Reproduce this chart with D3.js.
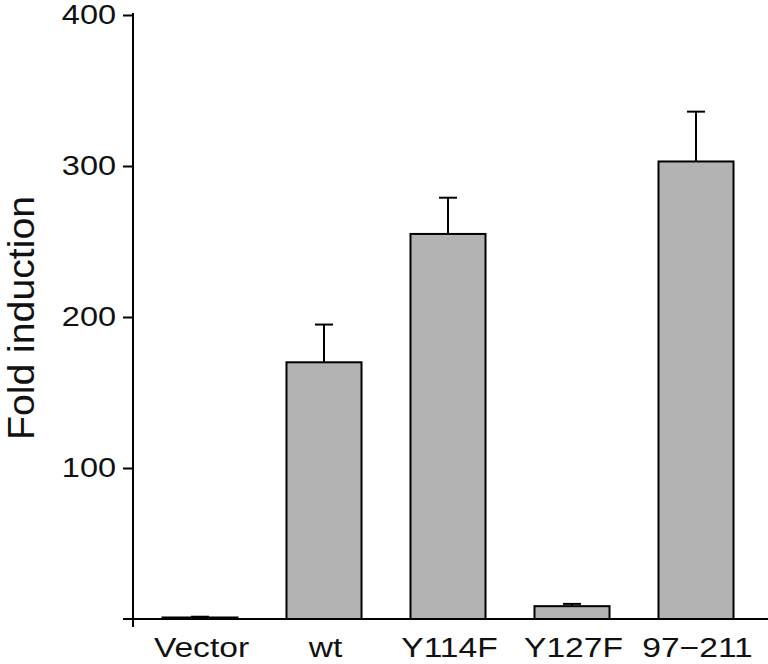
<!DOCTYPE html>
<html>
<head>
<meta charset="utf-8">
<script src="https://cdn.jsdelivr.net/npm/d3@7"></script>
<style>
  html, body { margin: 0; padding: 0; background: #fff; }
  svg { display: block; }
  text { font-family: "Liberation Sans", Arial, Helvetica, sans-serif; fill: #111; }
</style>
</head>
<body>
<svg id="chart" width="768" height="664"></svg>
<script>
const categories = ["Vector", "wt", "Y114F", "Y127F", "97\u2212211"];
const values = [1, 170, 255, 8.5, 303];
const errors = [0.5, 25, 24, 1.5, 33];
const yTicks = [100, 200, 300, 400];
const yTitle = "Fold induction";

const svg = d3.select("#chart");
const x = d3.scaleBand().domain(categories).range([138, 758]).paddingInner(0.395).paddingOuter(0.1975);
const y = d3.scaleLinear().domain([0, 400]).range([619, 15]);

// bars
svg.selectAll("rect.bar").data(categories).join("rect")
  .attr("class", "bar")
  .attr("x", d => x(d))
  .attr("y", (d, i) => y(values[i]))
  .attr("width", x.bandwidth())
  .attr("height", (d, i) => y(0) - y(values[i]))
  .attr("fill", "#b3b3b3")
  .attr("stroke", "#000")
  .attr("stroke-width", 2);

// error bars (upper only)
const cx = d => x(d) + x.bandwidth() / 2;
svg.selectAll("line.err").data(categories).join("line")
  .attr("class", "err")
  .attr("x1", cx).attr("x2", cx)
  .attr("y1", (d, i) => y(values[i]))
  .attr("y2", (d, i) => y(values[i] + errors[i]))
  .attr("stroke", "#000").attr("stroke-width", 2);
svg.selectAll("line.cap").data(categories).join("line")
  .attr("class", "cap")
  .attr("x1", d => cx(d) - 9).attr("x2", d => cx(d) + 9)
  .attr("y1", (d, i) => y(values[i] + errors[i]))
  .attr("y2", (d, i) => y(values[i] + errors[i]))
  .attr("stroke", "#000").attr("stroke-width", 2);

// y axis
const sx = 1.16;
const yAxis = d3.axisLeft(y).tickValues(yTicks).tickSize(10).tickPadding(7).tickFormat(d3.format("d"));
const gy = svg.append("g").attr("transform", "translate(133,0)").call(yAxis);
gy.select(".domain").remove();
gy.selectAll(".tick line").attr("stroke", "#000").attr("stroke-width", 2);
gy.selectAll(".tick text")
  .style("font-family", "'Liberation Sans', Arial, sans-serif")
  .style("font-size", "28px")
  .attr("x", -17 / sx)
  .attr("transform", `scale(${sx},1)`)
  .attr("fill", "#111");

// axis lines
svg.append("line").attr("x1", 133).attr("x2", 133).attr("y1", y(400) - 2).attr("y2", 627)
  .attr("stroke", "#000").attr("stroke-width", 2);
svg.append("line").attr("x1", 123).attr("x2", 768).attr("y1", y(0)).attr("y2", y(0))
  .attr("stroke", "#000").attr("stroke-width", 2);

// x labels
svg.selectAll("text.xl").data(categories).join("text")
  .attr("class", "xl")
  .attr("transform", d => `translate(${cx(d) + 1.5},657) scale(1.2,1)`)
  .attr("text-anchor", "middle")
  .style("font-size", "28px")
  .text(d => d);

// y title
svg.append("text")
  .attr("transform", "translate(34,318) rotate(-90) scale(1.06,1)")
  .attr("text-anchor", "middle")
  .style("font-size", "37px")
  .text(yTitle);
</script>
</body>
</html>
